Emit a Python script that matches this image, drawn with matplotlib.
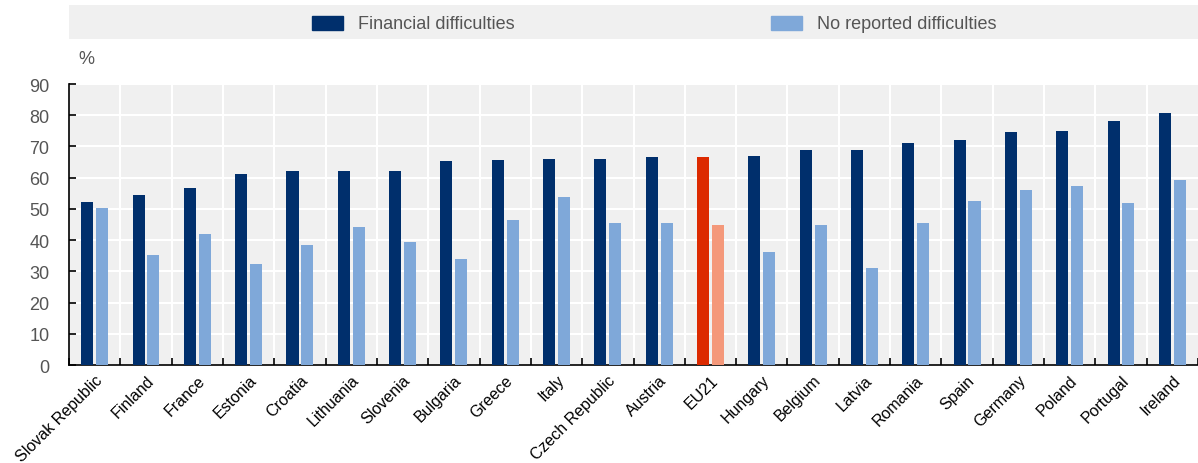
import numpy as np
import matplotlib
matplotlib.use("Agg")
import matplotlib.pyplot as plt
from matplotlib.patches import Rectangle
from matplotlib import font_manager

countries = ["Slovak Republic", "Finland", "France", "Estonia", "Croatia", "Lithuania",
             "Slovenia", "Bulgaria", "Greece", "Italy", "Czech Republic", "Austria",
             "EU21", "Hungary", "Belgium", "Latvia", "Romania", "Spain", "Germany",
             "Poland", "Portugal", "Ireland"]
financial = [52.1, 54.5, 56.8, 61.3, 62.0, 62.0, 62.2, 65.2, 65.5, 66.0, 66.1, 66.5,
             66.6, 67.0, 68.8, 68.9, 71.2, 72.2, 74.6, 75.0, 78.1, 80.7]
no_difficulty = [50.2, 35.2, 42.1, 32.4, 38.3, 44.3, 39.3, 34.0, 46.5, 53.8, 45.6, 45.6,
                 44.9, 36.1, 45.0, 31.0, 45.6, 52.5, 56.2, 57.2, 51.8, 59.3]
series_names = ["Financial difficulties", "No reported difficulties"]
yticks = [0, 10, 20, 30, 40, 50, 60, 70, 80, 90]

# narrow font if available
names = {f.name for f in font_manager.fontManager.ttflist}
family = "Liberation Sans Narrow" if "Liberation Sans Narrow" in names else "Liberation Sans"
plt.rcParams["font.family"] = [family, "DejaVu Sans"]

dark, light = "#002f6c", "#7fa8d9"
eu_dark, eu_light = "#dc2a00", "#f4987a"

fig = plt.figure(figsize=(11.98, 4.64), dpi=100)
ax = fig.add_axes([0.0576, 0.2112, 0.9424, 0.6056])
ax.set_facecolor("#f0f0f0")

x = np.arange(len(countries))
w = 0.235
c1 = [eu_dark if c == "EU21" else dark for c in countries]
c2 = [eu_light if c == "EU21" else light for c in countries]
ax.bar(x - 0.145, financial, w, color=c1, zorder=3)
ax.bar(x + 0.145, no_difficulty, w, color=c2, zorder=3)

ax.set_xlim(-0.5, len(countries) - 0.5)
ax.set_ylim(0, 90)
ax.set_yticks(yticks)
ax.tick_params(axis="y", direction="in", length=5, width=1.2, labelsize=13,
               labelcolor="#555555", pad=14)
for yv in yticks[1:]:
    ax.axhline(yv, color="white", lw=1.5, zorder=1)
for xv in np.arange(0.5, len(countries) - 0.5, 1):
    ax.axvline(xv, color="white", lw=1.5, zorder=1)

ax.set_xticks(np.arange(-0.5, len(countries) + 0.5, 1))
ax.set_xticklabels([])
ax.tick_params(axis="x", direction="in", length=5, width=1.2)
ax.set_xticks(x, minor=True)
ax.set_xticklabels(countries, minor=True, rotation=45, ha="right", rotation_mode="anchor",
                   fontsize=11.5)
ax.tick_params(axis="x", which="minor", length=0, pad=5)

for s in ["top", "right"]:
    ax.spines[s].set_visible(False)
ax.spines["left"].set_linewidth(1.2)
ax.spines["bottom"].set_linewidth(1.2)

ax.text(0.008, 1.09, "%", transform=ax.transAxes, fontsize=13, color="#555555",
        ha="left", va="center")

# legend strip (pixel-like coordinates inside the strip)
lax = fig.add_axes([0.0576, 0.914, 0.9424, 0.073])
lax.set_facecolor("#f0f0f0")
lax.set_xlim(69, 1198)
lax.set_ylim(40, 6)
lax.set_xticks([])
lax.set_yticks([])
for s in lax.spines.values():
    s.set_visible(False)
for px, col, lab in zip([312, 771], [dark, light], series_names):
    lax.add_patch(Rectangle((px, 17), 31, 14, color=col))
    lax.text(px + 46, 24.5, lab, fontsize=13, color="#555555", va="center", ha="left")

fig.savefig("out.png", dpi=100)
